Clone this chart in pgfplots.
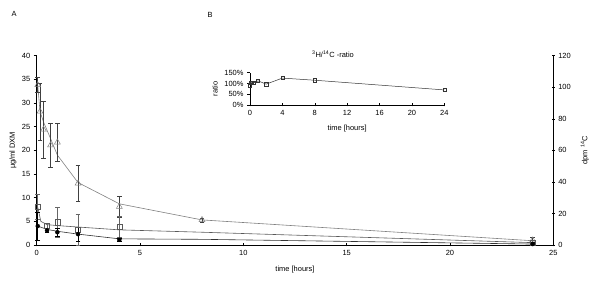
\documentclass[border=0pt]{standalone}
\usepackage{pgfplots}
\pgfplotsset{compat=1.18}
\usepackage{fontspec}
\setmainfont{Liberation Sans}
\definecolor{lgray}{gray}{0.5}
\definecolor{mgray}{gray}{0.35}
\begin{document}
\begin{tikzpicture}
\useasboundingbox (0,0) rectangle (600bp,282bp);
\node[font=\fontsize{7.5}{9}\selectfont] at (14bp,268bp) {A};
\node[font=\fontsize{7.5}{9}\selectfont] at (210bp,267bp) {B};
\pgfplotsset{
  every axis/.append style={
    scale only axis,
    font=\fontsize{7.5}{9}\selectfont,
    /pgf/number format/assume math mode=true,
    major tick length=3bp,
    axis line style={black, line width=0.5pt},
    tick style={black, line width=0.5pt},
    tick label style={font=\fontsize{7.5}{9}\selectfont},
  },
}
% main axis (left)
\begin{axis}[
  at={(36.7bp,37bp)}, anchor=south west,
  width=516.6bp, height=189.3bp,
  xmin=0, xmax=25, ymin=0, ymax=40,
  axis x line=bottom, axis y line=left,
  x axis line style={-}, y axis line style={-},
  xtick={0,5,10,15,20,25}, ytick={0,5,...,40},
  xtick align=center, ytick align=outside,
  xlabel={time [hours]},
  xlabel style={at={(axis description cs:0.5,-0.132)}, anchor=center},
  ylabel={µg/ml DXM},
  ylabel style={at={(axis description cs:-0.046,0.5)}, anchor=center, rotate=0},
  clip=false,
  error bars/error bar style={line width=0.5pt},
  error bars/error mark options={rotate=90, mark size=2.3bp, line width=0.5pt},
]
% triangle series: line
\addplot[lgray, line width=0.6pt, mark=none] coordinates {
 (0.05,33.8) (0.16,28.2) (0.33,26.0) (0.67,22.5) (1,19.0) (2,13.2) (4,8.7) (8,5.3) (24,0.9)};
% square series: line
\addplot[mgray, line width=0.6pt, mark=none] coordinates {
 (0.05,8.0) (0.2,5.0) (0.5,4.3) (1,4.1) (2,3.8) (4,3.2) (8,2.7) (24,0.5)};
% circle series: line
\addplot[black!80, line width=0.6pt, mark=none] coordinates {
 (0.05,4.0) (0.5,3.3) (1,2.9) (2,2.3) (4,1.3) (8,1.2) (24,0.2)};
% triangle markers
\addplot[only marks, mark=triangle, mark size=3.4bp, lgray,
  mark options={lgray, fill=white, line width=0.5pt},
  error bars/.cd, y dir=both, y explicit,
  error bar style={black!75}] coordinates {
 (0.05,33.8) +- (0,1.6)
 (0.16,28.2) +- (0,6.0)
 (0.33,24.4) +- (0,6.0)
 (0.67,21.1) +- (0,4.7)
 (1,21.7) +- (0,4.0)
 (2,13.0) +- (0,3.8)
 (4,8.1) +- (0,2.2)
 (8,5.3) +- (0,0.4)
 (24,1.0) +- (0,0.6)};
% square markers
\addplot[only marks, mark=square, mark size=2.6bp, mgray,
  mark options={mgray, fill=white, line width=0.5pt},
  error bars/.cd, y dir=both, y explicit,
  error bar style={black!60}] coordinates {
 (0.05,8.1) +- (0,2.7)
 (0.5,4.0) +- (0,0.5)
 (1,4.8) +- (0,3.2)
 (2,3.3) +- (0,3.3)
 (4,3.8) +- (0,2.2)
 (24,0.5) +- (0,0.4)};
% circle markers
\addplot[only marks, mark=*, mark size=2.0bp, black,
  error bars/.cd, y dir=both, y explicit,
  error bar style={black}] coordinates {
 (0.05,4.0) +- (0,3.0)
 (0.5,3.1) +- (0,0.4)
 (1,2.7) +- (0,0.8)
 (2,2.3) +- (0,1.5)
 (4,1.1) +- (0,0.3)
 (24,0.2) +- (0,0.3)};
\end{axis}
% right axis
\begin{axis}[
  at={(36.7bp,37bp)}, anchor=south west,
  width=516.6bp, height=189.3bp,
  xmin=0, xmax=25, ymin=0, ymax=120,
  axis y line=right, axis x line=none,
  y axis line style={-},
  ytick={0,20,...,120}, ytick align=center,
  ylabel={dpm \textsuperscript{14}C},
  ylabel style={at={(axis description cs:1.061,0.5)}, anchor=center},
]
\addplot[draw=none] coordinates {(0,0)};
\end{axis}
% inset
\node[font=\fontsize{7.5}{9}\selectfont] at (333bp,228bp) {\textsuperscript{3}H/\textsuperscript{14}C -ratio};
\begin{axis}[
  at={(250bp,177bp)}, anchor=south west,
  width=194.3bp, height=32.3bp,
  xmin=0, xmax=24, ymin=0, ymax=150,
  axis x line=bottom, axis y line=left,
  x axis line style={-}, y axis line style={-},
  xtick={0,4,...,24}, ytick={0,50,100,150},
  yticklabels={0\%,50\%,100\%,150\%},
  xtick align=center, ytick align=outside,
  xlabel={time [hours]},
  xlabel style={at={(axis description cs:0.5,-0.72)}, anchor=center},
  ylabel={ratio},
  ylabel style={at={(axis description cs:-0.18,0.5)}, anchor=center},
  clip=false,
]
\addplot[black!80, line width=0.5pt, mark=square, mark size=1.6bp,
  mark options={fill=white, line width=0.4pt}] coordinates {
 (0,92) (0.083,105) (0.25,105) (0.5,104) (1,112) (2,97) (4,125) (8,115) (24,70)};
\end{axis}
\end{tikzpicture}
\end{document}
